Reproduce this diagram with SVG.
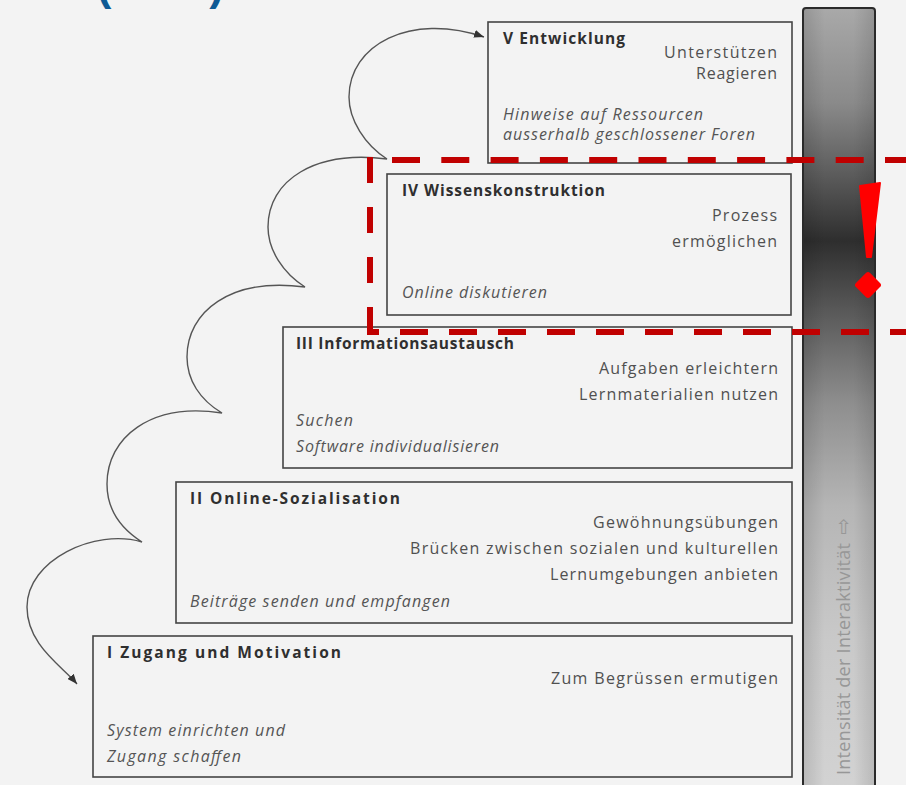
<svg xmlns="http://www.w3.org/2000/svg" width="906" height="785" viewBox="0 0 906 785">
<defs>
<style>
.box{fill:#f3f3f3;stroke:#444;stroke-width:1.6}
.t{font-family:"Open Sans","Noto Sans","Liberation Sans",sans-serif;font-weight:bold;font-size:15.5px;fill:#2f2f2f}
.b{font-family:"Open Sans","Noto Sans","Liberation Sans",sans-serif;font-size:16px;fill:#505050}
.r{text-anchor:end}
.i{font-family:"Open Sans","Noto Sans","Liberation Sans",sans-serif;font-style:italic;font-size:16px;fill:#555}
.conn{fill:none;stroke:#555;stroke-width:1.4}
.red{fill:none;stroke:#c00000;stroke-width:6}
.bt{font-family:"Open Sans","Noto Sans","DejaVu Sans",sans-serif;font-size:18px;fill:#979797}
</style>
<linearGradient id="barg" x1="0" y1="0" x2="0" y2="1">
<stop offset="0" stop-color="#a9a9a9"/>
<stop offset="0.12" stop-color="#8a8a8a"/>
<stop offset="0.21" stop-color="#5c5c5c"/>
<stop offset="0.295" stop-color="#2e2e2e"/>
<stop offset="0.38" stop-color="#575757"/>
<stop offset="0.5" stop-color="#8e8e8e"/>
<stop offset="0.63" stop-color="#b5b5b5"/>
<stop offset="0.8" stop-color="#c9c9c9"/>
<stop offset="1" stop-color="#d3d3d3"/>
</linearGradient>
<linearGradient id="barh" x1="0" y1="0" x2="1" y2="0">
<stop offset="0" stop-color="#000" stop-opacity="0.12"/>
<stop offset="0.3" stop-color="#000" stop-opacity="0"/>
<stop offset="0.7" stop-color="#000" stop-opacity="0"/>
<stop offset="1" stop-color="#000" stop-opacity="0.12"/>
</linearGradient>
<marker id="ah" viewBox="0 0 10 8" refX="10" refY="4" markerWidth="10" markerHeight="8" markerUnits="userSpaceOnUse" orient="auto-start-reverse">
<path d="M0,0 L10,4 L0,8 Z" fill="#333"/>
</marker>
</defs>
<rect x="0" y="0" width="906" height="785" fill="#f3f3f3"/>
<text x="224" y="0" text-anchor="end" font-family="'Liberation Sans',Arial,sans-serif" font-weight="bold" font-size="44" fill="#0f5a94">Salmon (2000)</text>

<g id="bar">
<rect x="803" y="8" width="72" height="790" rx="3" fill="url(#barg)"/>
<rect x="803" y="8" width="72" height="790" rx="3" fill="url(#barh)" stroke="#2a2a2a" stroke-width="2"/>
<text class="bt" transform="translate(850,775) rotate(-90)" textLength="232">Intensität der Interaktivität</text>
<text transform="translate(850,775) rotate(-90)" x="240" style="font-family:'DejaVu Sans',sans-serif;font-size:20px;fill:#979797">⇨</text>
</g>

<g id="connectors">
<path class="conn" marker-start="url(#ah)" marker-end="url(#ah)" d="M77,684 C62,666 27,645 27,607 C27,560 95,528 142,542 C120,528 107,508 107,484 C107,438 150,402 222,413 C200,400 187,380 187,357 C187,312 230,277 305,287 C283,273 268,250 268,227 C268,180 315,150 387,159 C365,145 349,120 349,97 C349,45 410,12 484,37"/>
</g>

<g id="stage5">
<rect class="box" x="488" y="22" width="304" height="141"/>
<text class="t" x="503" y="44" textLength="122">V Entwicklung</text>
<text class="b r" x="777" y="58" textLength="113">Unterstützen</text>
<text class="b r" x="777" y="79" textLength="81">Reagieren</text>
<text class="i" x="503" y="120" textLength="200">Hinweise auf Ressourcen</text>
<text class="i" x="503" y="140" textLength="252">ausserhalb geschlossener Foren</text>
</g>

<g id="stage4">
<rect class="box" x="387" y="174" width="404" height="141"/>
<text class="t" x="402" y="196" textLength="203">IV Wissenskonstruktion</text>
<text class="b r" x="777" y="221" textLength="65">Prozess</text>
<text class="b r" x="777" y="247" textLength="105">ermöglichen</text>
<text class="i" x="402" y="298" textLength="145">Online diskutieren</text>
</g>

<g id="stage3">
<rect class="box" x="283" y="327" width="509" height="141"/>
<text class="t" x="296" y="349" textLength="218">III Informationsaustausch</text>
<text class="b r" x="778" y="374" textLength="179">Aufgaben erleichtern</text>
<text class="b r" x="778" y="400" textLength="199">Lernmaterialien nutzen</text>
<text class="i" x="296" y="426" textLength="57">Suchen</text>
<text class="i" x="296" y="452" textLength="203">Software individualisieren</text>
</g>

<g id="stage2">
<rect class="box" x="176" y="482" width="616" height="141"/>
<text class="t" x="190" y="504" textLength="210">II Online-Sozialisation</text>
<text class="b r" x="778" y="528" textLength="185">Gewöhnungsübungen</text>
<text class="b r" x="778" y="554" textLength="368">Brücken zwischen sozialen und kulturellen</text>
<text class="b r" x="778" y="580" textLength="228">Lernumgebungen anbieten</text>
<text class="i" x="190" y="607" textLength="260">Beiträge senden und empfangen</text>
</g>

<g id="stage1">
<rect class="box" x="93" y="636" width="699" height="141"/>
<text class="t" x="107" y="658" textLength="234">I Zugang und Motivation</text>
<text class="b r" x="778" y="684" textLength="227">Zum Begrüssen ermutigen</text>
<text class="i" x="107" y="736" textLength="178">System einrichten und</text>
<text class="i" x="107" y="762" textLength="134">Zugang schaffen</text>
</g>

<g id="highlight">
<line class="red" x1="392" y1="160" x2="920" y2="160" stroke-dasharray="28 21.3"/>
<line class="red" x1="370" y1="157" x2="370" y2="335" stroke-dasharray="26 24"/>
<line class="red" x1="367" y1="332" x2="379" y2="332"/>
<line class="red" x1="400" y1="332" x2="920" y2="332" stroke-dasharray="28 21"/>
<path d="M860,186 L880,183 L871,257 L867,257 Z" fill="#ff0000" stroke="#ff0000" stroke-width="2" stroke-linejoin="round"/>
<rect x="858" y="275" width="20" height="20" rx="3" transform="rotate(45 868 285)" fill="#ff0000"/>
</g>
</svg>
